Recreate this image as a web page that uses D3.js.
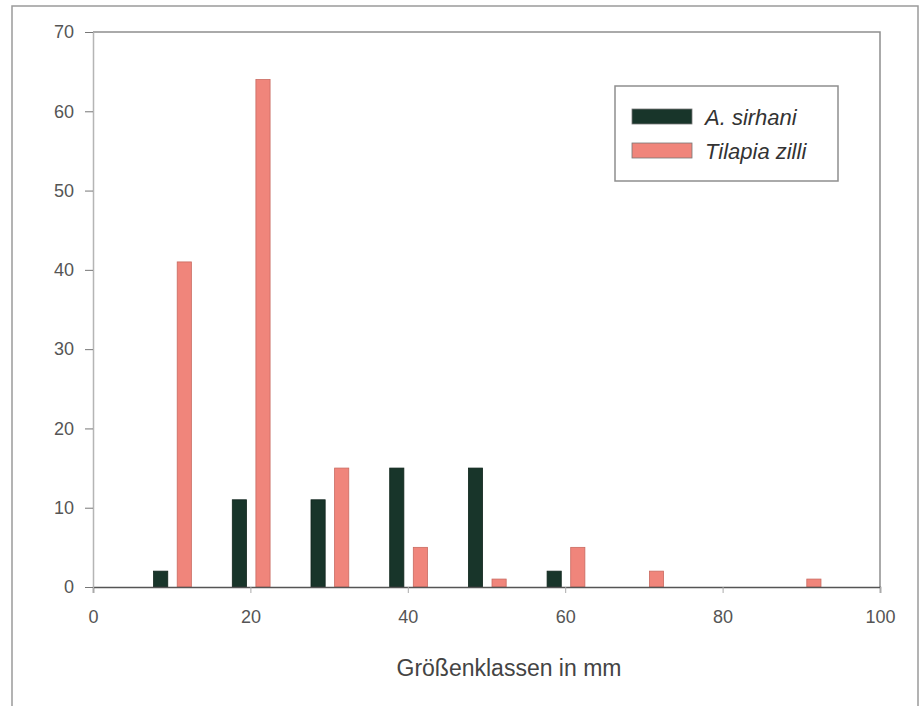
<!DOCTYPE html>
<html>
<head>
<meta charset="utf-8">
<script src="https://cdn.jsdelivr.net/npm/d3@7"></script>
<style>
  body { margin: 0; background: #fff; }
  text { font-family: "Liberation Sans", Arial, sans-serif; }
</style>
</head>
<body>
<div id="wrapper"></div>
<script>
// size classes (mm) and counts per species
const classes = [10, 20, 30, 40, 50, 60, 70, 80, 90]
const sirhani = [2, 11, 11, 15, 15, 2, 0, 0, 0]
const zilli = [41, 64, 15, 5, 1, 5, 2, 0, 1]
const xTicks = [0, 20, 40, 60, 80, 100]
const yTicks = [0, 10, 20, 30, 40, 50, 60, 70]
const seriesNames = ["A. sirhani", "Tilapia zilli"]

const colors = { dark: "#18352a", pink: "#f0857b" }

const width = 924
let dimensions = {
    width: width,
    height: 706,
    margin: { top: 32, right: 44, bottom: 119, left: 93 },
}
dimensions.boundedWidth = dimensions.width - dimensions.margin.left - dimensions.margin.right
dimensions.boundedHeight = dimensions.height - dimensions.margin.top - dimensions.margin.bottom

const svg = d3.select("#wrapper")
    .append("svg")
    .attr("width", dimensions.width)
    .attr("height", dimensions.height)

// outer frame
svg.append("rect")
    .attr("x", 12).attr("y", 6)
    .attr("width", 906).attr("height", 720)
    .attr("fill", "none")
    .attr("stroke", "#9a9a9a")
    .attr("stroke-width", 1.5)

const bounds = svg.append("g")
    .attr("transform", `translate(${dimensions.margin.left},${dimensions.margin.top})`)

const xScaler = d3.scaleLinear()
    .domain([0, 100])
    .range([0, dimensions.boundedWidth])

const yScaler = d3.scaleLinear()
    .domain([0, 70])
    .range([dimensions.boundedHeight, 0])

// plot frame top + right
bounds.append("path")
    .attr("d", `M0,0H${dimensions.boundedWidth}V${dimensions.boundedHeight}`)
    .attr("fill", "none")
    .attr("stroke", "#8e8e8e")
    .attr("stroke-width", 1.5)

// bars
const barW = 1.8
const barData = []
classes.forEach((c, i) => {
    barData.push({ x: c - 1.4, v: sirhani[i], col: colors.dark })
    barData.push({ x: c + 1.6, v: zilli[i], col: colors.pink })
})
bounds.append("g")
    .selectAll("rect")
    .data(barData.filter(d => d.v > 0))
    .enter()
    .append("rect")
    .attr("x", d => xScaler(d.x - barW / 2))
    .attr("width", d => xScaler(barW) - xScaler(0))
    .attr("y", d => yScaler(d.v))
    .attr("height", d => yScaler(0) - yScaler(d.v))
    .attr("fill", d => d.col)
    .attr("stroke", d => d.col == colors.pink ? "#c96a60" : "#10251c")
    .attr("stroke-width", 0.8)

// axes
const xAxis = bounds.append("g")
    .attr("transform", `translate(0,${dimensions.boundedHeight})`)
    .call(d3.axisBottom(xScaler).tickValues(xTicks).tickSize(6).tickPadding(17))
xAxis.select(".domain").attr("stroke", "#555").attr("stroke-width", 1.5)
xAxis.selectAll(".tick line").attr("stroke", "#aaa")
xAxis.selectAll(".tick text")
    .attr("font-size", "18px")
    .attr("fill", "#555")
    .attr("font-family", "Liberation Sans, Arial, sans-serif")

const yAxis = bounds.append("g")
    .call(d3.axisLeft(yScaler).tickValues(yTicks).tickSize(8).tickPadding(11).tickSizeOuter(0))
yAxis.select(".domain").attr("stroke", "#b5b5b5").attr("stroke-width", 1.5)
yAxis.selectAll(".tick line").attr("stroke", "#777")
yAxis.selectAll(".tick text")
    .attr("font-size", "18px")
    .attr("fill", "#555")
    .attr("font-family", "Liberation Sans, Arial, sans-serif")

// x label
svg.append("text")
    .attr("x", 509)
    .attr("y", 676)
    .attr("text-anchor", "middle")
    .attr("font-size", "23px")
    .attr("fill", "#444")
    .text("Größenklassen in mm")

// legend
const legend = svg.append("g")
legend.append("rect")
    .attr("x", 615).attr("y", 86)
    .attr("width", 223).attr("height", 95)
    .attr("fill", "#fff")
    .attr("stroke", "#8e8e8e")
    .attr("stroke-width", 1.5)
const legendCols = [colors.dark, colors.pink]
seriesNames.forEach((name, i) => {
    const y = 109 + i * 34
    legend.append("rect")
        .attr("x", 632).attr("y", y)
        .attr("width", 60).attr("height", 15)
        .attr("fill", legendCols[i])
        .attr("stroke", "#777")
        .attr("stroke-width", 0.8)
    legend.append("text")
        .attr("x", 705).attr("y", y + 16)
        .attr("font-size", "22px")
        .attr("font-style", "italic")
        .attr("fill", "#333")
        .text(name)
})
</script>
</body>
</html>
